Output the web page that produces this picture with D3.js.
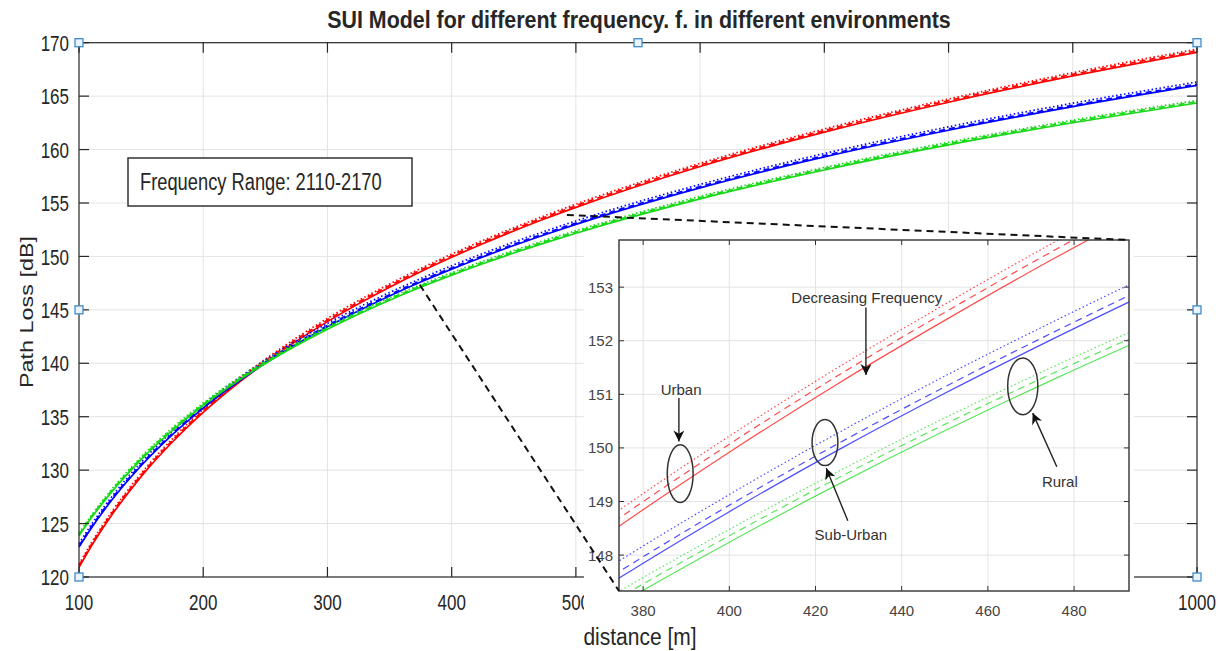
<!DOCTYPE html>
<html>
<head>
<meta charset="utf-8">
<script src="https://cdn.jsdelivr.net/npm/d3@7"></script>
<style>
  body { margin: 0; background: #fff; }
  svg { display: block; font-family: "Liberation Sans", Arial, Helvetica, sans-serif; }
</style>
</head>
<body>
<svg id="chart" width="1227" height="651"></svg>
<script>
// ---- SUI path loss data, distance in metres, loss in dB ----
const distances = [100, 110, 125, 150, 175, 200, 250, 300, 350, 375, 400, 425, 450, 475, 500, 600, 700, 800, 900, 1000];

// Urban (terrain A)
const urban2110 = [120.90, 122.90, 125.57, 129.39, 132.61, 135.41, 140.08, 143.90, 147.12, 148.57, 149.92, 151.19, 152.38, 153.52, 154.59, 158.41, 161.63, 164.43, 166.89, 169.10];
const urban2140 = [121.05, 123.05, 125.72, 129.54, 132.76, 135.56, 140.23, 144.05, 147.27, 148.72, 150.07, 151.34, 152.53, 153.67, 154.74, 158.56, 161.78, 164.58, 167.04, 169.25];
const urban2170 = [121.20, 123.20, 125.87, 129.69, 132.91, 135.71, 140.38, 144.20, 147.42, 148.87, 150.22, 151.49, 152.68, 153.82, 154.89, 158.71, 161.93, 164.73, 167.19, 169.40];

// Sub-urban (terrain B)
const suburban2110 = [122.80, 124.59, 126.99, 130.41, 133.30, 135.80, 139.99, 143.41, 146.30, 147.60, 148.81, 149.95, 151.02, 152.03, 153.00, 156.42, 159.31, 161.81, 164.02, 166.00];
const suburban2140 = [122.92, 124.71, 127.11, 130.53, 133.42, 135.92, 140.11, 143.53, 146.42, 147.72, 148.93, 150.07, 151.14, 152.15, 153.12, 156.54, 159.43, 161.93, 164.14, 166.12];
const suburban2170 = [123.12, 124.91, 127.31, 130.73, 133.62, 136.12, 140.31, 143.73, 146.62, 147.92, 149.13, 150.27, 151.34, 152.35, 153.32, 156.74, 159.63, 162.13, 164.34, 166.32];

// Rural (terrain C)
const rural2110 = [123.86, 125.54, 127.78, 130.99, 133.70, 136.05, 139.98, 143.18, 145.90, 147.11, 148.24, 149.31, 150.32, 151.27, 152.17, 155.38, 158.09, 160.44, 162.51, 164.36];
const rural2140 = [123.98, 125.66, 127.90, 131.11, 133.82, 136.17, 140.10, 143.30, 146.02, 147.23, 148.36, 149.43, 150.44, 151.39, 152.29, 155.50, 158.21, 160.56, 162.63, 164.48];
const rural2170 = [124.10, 125.78, 128.02, 131.23, 133.94, 136.29, 140.22, 143.42, 146.14, 147.35, 148.48, 149.55, 150.56, 151.51, 152.41, 155.62, 158.33, 160.68, 162.75, 164.60];

// Axis ticks
const xTicks = [100, 200, 300, 400, 500, 600, 700, 800, 900, 1000];
const xTickLabels = ["100", "200", "300", "400", "500", "", "", "", "", "1000"]; // 600-900 sit under the inset
const yTicks = [120, 125, 130, 135, 140, 145, 150, 155, 160, 165, 170];
const zoomXTicks = [380, 400, 420, 440, 460, 480];
const zoomYTicks = [148, 149, 150, 151, 152, 153];

// Zoomed window (distance, dB)
const zoomXDomain = [374.4, 492.75];
const zoomYDomain = [147.33, 153.88];

// Texts
const titleText = "SUI Model for different frequency. f. in different environments";
const xLabel = "distance [m]";
const yLabel = "Path Loss [dB]";
const noteText = "Frequency Range: 2110-2170";

// Callouts inside the zoomed view, in data units
const callouts = [
  { label: "Urban", tx: 388.8, ty: 150.99, ax0: [388.3, 150.93], ax1: [388.3, 150.12], ell: [388.6, 149.52, 3.0, 0.54] },
  { label: "Decreasing Frequency", tx: 431.9, ty: 152.71, ax0: [431.7, 152.62], ax1: [431.7, 151.36], ell: null },
  { label: "Sub-Urban", tx: 428.2, ty: 148.29, ax0: [427.5, 148.64], ax1: [422.5, 149.62], ell: [422.2, 150.10, 3.0, 0.43] },
  { label: "Rural", tx: 476.7, ty: 149.27, ax0: [476.0, 149.65], ax1: [470.4, 150.65], ell: [468.1, 151.15, 3.5, 0.53] }
];

// ---- series table built from the arrays above ----
const styles = { 2110: "solid", 2140: "dashed", 2170: "dotted" };
const series = [
  { env: "Urban", f: 2110, color: "#ff0000", v: urban2110 },
  { env: "Urban", f: 2140, color: "#ff0000", v: urban2140 },
  { env: "Urban", f: 2170, color: "#ff0000", v: urban2170 },
  { env: "Sub-Urban", f: 2110, color: "#0000ff", v: suburban2110 },
  { env: "Sub-Urban", f: 2140, color: "#0000ff", v: suburban2140 },
  { env: "Sub-Urban", f: 2170, color: "#0000ff", v: suburban2170 },
  { env: "Rural", f: 2110, color: "#18d818", v: rural2110 },
  { env: "Rural", f: 2140, color: "#18d818", v: rural2140 },
  { env: "Rural", f: 2170, color: "#18d818", v: rural2170 }
].map(s => ({ ...s, pts: distances.map((d, i) => ({ d, v: s.v[i] })) }));

const svg = d3.select("#chart");
const TXT = "#262626";
const AX = "#262626";
const GRID = "#e3e3e3";

// text with a vertical stretch factor
function stext(g, x, y, str, size, sy, anchor, extra) {
  const t = g.append("text")
    .attr("transform", `translate(${x},${y}) scale(1,${sy})`)
    .attr("font-size", size)
    .attr("text-anchor", anchor || "start")
    .attr("fill", (extra && extra.fill) || TXT)
    .text(str);
  if (extra && extra.weight) t.attr("font-weight", extra.weight);
  return t;
}

// ---- main axes ----
const M = { left: 79, right: 1197, top: 42.7, bottom: 577 };
const x = d3.scaleLinear().domain([100, 1000]).range([M.left, M.right]);
const y = d3.scaleLinear().domain([120, 170]).range([M.bottom, M.top]);

const main = svg.append("g");

// grid
main.append("g").selectAll("line").data(xTicks.slice(1, -1)).join("line")
  .attr("x1", d => x(d)).attr("x2", d => x(d)).attr("y1", M.top).attr("y2", M.bottom)
  .attr("stroke", GRID).attr("stroke-width", 1);
main.append("g").selectAll("line").data(yTicks.slice(1, -1)).join("line")
  .attr("y1", d => y(d)).attr("y2", d => y(d)).attr("x1", M.left).attr("x2", M.right)
  .attr("stroke", GRID).attr("stroke-width", 1);

// curves
const mainLine = d3.line().x(p => x(p.d)).y(p => y(p.v)).curve(d3.curveMonotoneX);
const mainDash = { solid: null, dashed: "6,4", dotted: "1.5,2.5" };
main.append("g").selectAll("path").data(series).join("path")
  .attr("d", s => mainLine(s.pts))
  .attr("fill", "none")
  .attr("stroke", s => s.color)
  .attr("stroke-width", 1.7)
  .attr("stroke-dasharray", s => mainDash[styles[s.f]]);

// axes box and inward ticks
const axG = main.append("g");
axG.append("rect").attr("x", M.left).attr("y", M.top)
  .attr("width", M.right - M.left).attr("height", M.bottom - M.top)
  .attr("fill", "none").attr("stroke", AX).attr("stroke-width", 1.2);
const tl = 10;
xTicks.forEach(d => {
  axG.append("line").attr("x1", x(d)).attr("x2", x(d)).attr("y1", M.bottom).attr("y2", M.bottom - tl).attr("stroke", AX).attr("stroke-width", 1.2);
  axG.append("line").attr("x1", x(d)).attr("x2", x(d)).attr("y1", M.top).attr("y2", M.top + tl).attr("stroke", AX).attr("stroke-width", 1.2);
});
yTicks.forEach(d => {
  axG.append("line").attr("y1", y(d)).attr("y2", y(d)).attr("x1", M.left).attr("x2", M.left + tl).attr("stroke", AX).attr("stroke-width", 1.2);
  axG.append("line").attr("y1", y(d)).attr("y2", y(d)).attr("x1", M.right).attr("x2", M.right - tl).attr("stroke", AX).attr("stroke-width", 1.2);
});

// tick labels
xTicks.forEach((d, i) => { if (xTickLabels[i]) stext(axG, x(d), 610, xTickLabels[i], 17, 1.35, "middle"); });
yTicks.forEach(d => stext(axG, 69, y(d) + 8.2, String(d), 17, 1.35, "end"));

// axis titles
stext(svg, 640, 645, xLabel, 21, 1.1, "middle");
svg.append("text")
  .attr("transform", `translate(33,312) scale(1,1.3) rotate(-90)`)
  .attr("font-size", 18).attr("text-anchor", "middle").attr("fill", TXT)
  .text(yLabel);

// title
stext(svg, 639, 28, titleText, 21.4, 1.1, "middle", { weight: "bold" });

// selection handles on the axes
const handles = [[M.left, M.top], [(M.left + M.right) / 2, M.top], [M.right, M.top],
  [M.left, (M.top + M.bottom) / 2], [M.right, (M.top + M.bottom) / 2],
  [M.left, M.bottom], [(M.left + M.right) / 2, M.bottom], [M.right, M.bottom]];
svg.append("g").selectAll("rect").data(handles).join("rect")
  .attr("x", d => d[0] - 4).attr("y", d => d[1] - 4).attr("width", 8).attr("height", 8)
  .attr("fill", "#eaf3fb").attr("stroke", "#3f8ccc").attr("stroke-width", 1.3);

// annotation box
const note = svg.append("g");
note.append("rect").attr("x", 128).attr("y", 158).attr("width", 284).attr("height", 48)
  .attr("fill", "#fff").attr("stroke", "#333").attr("stroke-width", 1.5);
stext(note, 140, 190, noteText, 18.3, 1.27, "start");

// ---- zoomed view ----
svg.append("rect").attr("x", 584).attr("y", 232).attr("width", 550).attr("height", 390).attr("fill", "#fff");

const Z = { left: 619, right: 1129, top: 240, bottom: 591 };
const zx = d3.scaleLinear().domain(zoomXDomain).range([Z.left, Z.right]);
const zy = d3.scaleLinear().domain(zoomYDomain).range([Z.bottom, Z.top]);
const zg = svg.append("g");

zg.append("clipPath").attr("id", "zclip").append("rect")
  .attr("x", Z.left).attr("y", Z.top).attr("width", Z.right - Z.left).attr("height", Z.bottom - Z.top);

zg.append("g").selectAll("line").data(zoomXTicks).join("line")
  .attr("x1", d => zx(d)).attr("x2", d => zx(d)).attr("y1", Z.top).attr("y2", Z.bottom)
  .attr("stroke", GRID).attr("stroke-width", 1);
zg.append("g").selectAll("line").data(zoomYTicks).join("line")
  .attr("y1", d => zy(d)).attr("y2", d => zy(d)).attr("x1", Z.left).attr("x2", Z.right)
  .attr("stroke", GRID).attr("stroke-width", 1);

const zLine = d3.line().x(p => zx(p.d)).y(p => zy(p.v)).curve(d3.curveMonotoneX);
const zDash = { solid: null, dashed: "7,5", dotted: "1.5,2.5" };
zg.append("g").attr("clip-path", "url(#zclip)").selectAll("path").data(series).join("path")
  .attr("d", s => zLine(s.pts))
  .attr("fill", "none")
  .attr("stroke", s => s.color)
  .attr("stroke-opacity", 0.7)
  .attr("stroke-width", 1.2)
  .attr("stroke-dasharray", s => zDash[styles[s.f]]);

zg.append("rect").attr("x", Z.left).attr("y", Z.top)
  .attr("width", Z.right - Z.left).attr("height", Z.bottom - Z.top)
  .attr("fill", "none").attr("stroke", "#333").attr("stroke-width", 1.4);
const ztl = 5;
zoomXTicks.forEach(d => {
  zg.append("line").attr("x1", zx(d)).attr("x2", zx(d)).attr("y1", Z.bottom).attr("y2", Z.bottom - ztl).attr("stroke", "#333");
  zg.append("line").attr("x1", zx(d)).attr("x2", zx(d)).attr("y1", Z.top).attr("y2", Z.top + ztl).attr("stroke", "#333");
  stext(zg, zx(d), 616, String(d), 15, 1, "middle", { fill: "#444" });
});
zoomYTicks.forEach(d => {
  zg.append("line").attr("y1", zy(d)).attr("y2", zy(d)).attr("x1", Z.left).attr("x2", Z.left + ztl).attr("stroke", "#333");
  zg.append("line").attr("y1", zy(d)).attr("y2", zy(d)).attr("x1", Z.right).attr("x2", Z.right - ztl).attr("stroke", "#333");
  stext(zg, 613, zy(d) + 5.5, String(d), 15, 1, "end", { fill: "#444" });
});

// callouts
const defs = svg.append("defs");
defs.append("marker").attr("id", "arrowHead").attr("viewBox", "0 0 10 10")
  .attr("refX", 10).attr("refY", 5).attr("markerWidth", 11).attr("markerHeight", 11)
  .attr("markerUnits", "userSpaceOnUse").attr("orient", "auto")
  .append("path").attr("d", "M0,0 L10,5 L0,10 L3,5 Z").attr("fill", "#111");

callouts.forEach(c => {
  stext(zg, zx(c.tx), zy(c.ty), c.label, 15, 1, "middle", { fill: "#333" });
  zg.append("line")
    .attr("x1", zx(c.ax0[0])).attr("y1", zy(c.ax0[1]))
    .attr("x2", zx(c.ax1[0])).attr("y2", zy(c.ax1[1]))
    .attr("stroke", "#222").attr("stroke-width", 1.4)
    .attr("marker-end", "url(#arrowHead)");
  if (c.ell) {
    const [cx, cy, rx, ry] = c.ell;
    zg.append("ellipse")
      .attr("cx", zx(cx)).attr("cy", zy(cy))
      .attr("rx", zx(cx + rx) - zx(cx)).attr("ry", zy(cy) - zy(cy + ry))
      .attr("fill", "none").attr("stroke", "#333").attr("stroke-width", 1.5);
  }
});

// connector lines from the zoomed window in the main axes to the inset corners
const conn = [
  [x(zoomXDomain[0]), y(zoomYDomain[0]), zx(zoomXDomain[0]), zy(zoomYDomain[0])],
  [x(zoomXDomain[1]), y(zoomYDomain[1]), zx(zoomXDomain[1]), zy(zoomYDomain[1])]
];
svg.append("g").selectAll("line").data(conn).join("line")
  .attr("x1", d => d[0]).attr("y1", d => d[1]).attr("x2", d => d[2]).attr("y2", d => d[3])
  .attr("stroke", "#111").attr("stroke-width", 2).attr("stroke-dasharray", "7,5");
</script>
</body>
</html>
